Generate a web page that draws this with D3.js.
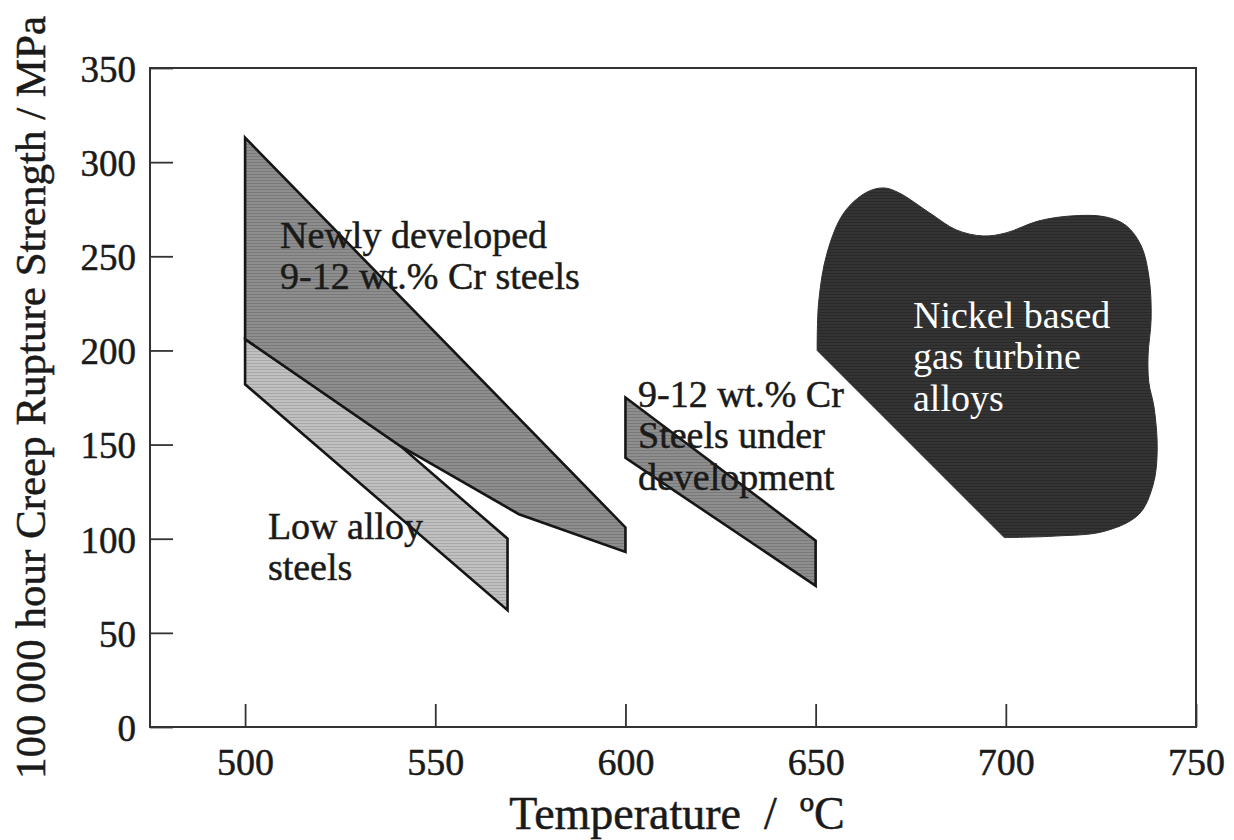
<!DOCTYPE html>
<html>
<head>
<meta charset="utf-8">
<script src="https://cdn.jsdelivr.net/npm/d3@7"></script>
<style>
  html, body { margin: 0; padding: 0; background: #fff; }
  svg { display: block; }
  text { font-family: "Liberation Serif", "Times New Roman", serif; fill: #1a1a1a; }
  .ink { stroke: #1a1a1a; stroke-width: 0.5px; }
</style>
</head>
<body>
<svg id="chart" width="1234" height="840"></svg>
<script>
// Temperature (°C) / strength (MPa) outlines of each material band
const lowAlloySteels = [[500, 206], [541, 149], [569, 100], [569, 62], [500, 182]];
const newlyDevelopedCr = [[500, 313], [600, 106], [600, 93], [572, 113], [541, 149], [500, 206]];
const crSteelsUnderDevelopment = [[600, 175], [650, 99], [650, 75], [600, 143]];
// Nickel alloys: straight lower-left edge, then a smooth outline around the rest
const nickelEdge = [[650.4, 200], [699.6, 100.6]];
const nickelOutline = [
  [699.6, 100.6], [713, 101.4], [726, 104], [735, 113], [738.7, 128.5], [739.8, 146.6],
  [739, 169.4], [737.6, 183], [737.4, 197.6], [738.2, 216.7], [737.7, 238], [735.6, 255.5],
  [731.5, 266.5], [726, 271], [717, 271.4], [708.5, 268.7], [700, 262.4], [694, 260.8],
  [687, 264], [680, 273], [672, 283.6], [668, 286.3], [663.4, 284], [657.4, 273],
  [653, 251.7], [650.8, 225.7], [650.4, 200]
];

const xTicks = [500, 550, 600, 650, 700, 750];
const yTicks = [0, 50, 100, 150, 200, 250, 300, 350];

const regionLabels = [
  { lines: ["Newly developed", "9-12 wt.% Cr steels"], t: 509.2, s: 254.5, color: "#1a1a1a", ink: true },
  { lines: ["Low alloy", "steels"], t: 506, s: 100, color: "#1a1a1a", ink: true },
  { lines: ["9-12 wt.% Cr", "Steels under", "development"], t: 603.3, s: 170, color: "#1a1a1a", ink: true },
  { lines: ["Nickel based", "gas turbine", "alloys"], t: 675.6, s: 212, color: "#fff", ink: false }
];

const svg = d3.select("#chart");
const margin = { left: 150, right: 38, top: 68, bottom: 113 };
const W = 1234, H = 840;

const x = d3.scaleLinear().domain([475, 750]).range([margin.left, W - margin.right]);
const y = d3.scaleLinear().domain([0, 350]).range([H - margin.bottom, margin.top]);

// Scan-line textures for the filled regions
const defs = svg.append("defs");
function stripes(id, base, line) {
  const p = defs.append("pattern").attr("id", id)
    .attr("patternUnits", "userSpaceOnUse").attr("width", 6).attr("height", 3);
  p.append("rect").attr("width", 6).attr("height", 3).attr("fill", base);
  p.append("rect").attr("width", 6).attr("height", 1).attr("fill", line);
}
stripes("lightFill", "#c0c0c0", "#a8a8a8");
stripes("midFill", "#8e8e8e", "#797979");
stripes("darkFill", "#343434", "#292929");

const poly = d3.line().x(d => x(d[0])).y(d => y(d[1]));

function drawPolygon(pts, fill) {
  svg.append("path")
    .attr("d", poly(pts) + "Z")
    .attr("fill", fill)
    .attr("stroke", "#161616")
    .attr("stroke-width", 2.6)
    .attr("stroke-linejoin", "miter");
}

drawPolygon(lowAlloySteels, "url(#lightFill)");
drawPolygon(newlyDevelopedCr, "url(#midFill)");
drawPolygon(crSteelsUnderDevelopment, "url(#midFill)");

// Nickel region: straight edge joined to a Catmull-Rom curve
const smooth = d3.line().x(d => x(d[0])).y(d => y(d[1])).curve(d3.curveCatmullRom.alpha(0.5));
const nickelPath = poly(nickelEdge) + "L" + smooth(nickelOutline).slice(1) + "Z";
svg.append("path")
  .attr("d", nickelPath)
  .attr("fill", "url(#darkFill)")
  .attr("stroke", "#303030")
  .attr("stroke-width", 1);

// Region labels
regionLabels.forEach(lab => {
  const t = svg.append("text")
    .attr("x", x(lab.t)).attr("y", y(lab.s))
    .attr("font-size", 38)
    .classed("ink", lab.ink)
    .style("fill", lab.color);
  lab.lines.forEach((ln, i) => {
    t.append("tspan").attr("x", x(lab.t)).attr("dy", i === 0 ? 0 : 41.5).text(ln);
  });
});

// Frame
svg.append("rect")
  .attr("x", x(475)).attr("y", y(350))
  .attr("width", x(750) - x(475)).attr("height", y(0) - y(350))
  .attr("fill", "none").attr("stroke", "#333").attr("stroke-width", 2);

// Axes with inward ticks
const xAxis = svg.append("g")
  .attr("transform", `translate(0,${y(0)})`)
  .call(d3.axisBottom(x).tickValues(xTicks).tickFormat(d3.format("d")).tickSizeInner(-23).tickSizeOuter(0));
xAxis.select(".domain").remove();
xAxis.selectAll(".tick line").attr("stroke", "#333").attr("stroke-width", 1.8);
xAxis.selectAll(".tick text")
  .attr("y", 48).attr("dy", 0)
  .attr("font-size", 38)
  .attr("font-family", "Liberation Serif, Times New Roman, serif")
  .attr("class", "ink")
  .style("fill", "#1a1a1a");

const yAxis = svg.append("g")
  .attr("transform", `translate(${x(475)},0)`)
  .call(d3.axisLeft(y).tickValues(yTicks).tickFormat(d3.format("d")).tickSizeInner(-23).tickSizeOuter(0));
yAxis.select(".domain").remove();
yAxis.selectAll(".tick line").attr("stroke", "#333").attr("stroke-width", 1.8);
yAxis.selectAll(".tick text")
  .attr("x", -14).attr("dy", "0.36em")
  .attr("font-size", 37)
  .attr("font-family", "Liberation Serif, Times New Roman, serif")
  .attr("class", "ink")
  .style("fill", "#1a1a1a");

// Axis titles
svg.append("text")
  .attr("class", "ink")
  .attr("x", (x(475) + x(750)) / 2 + 4).attr("y", 829)
  .attr("text-anchor", "middle")
  .attr("font-size", 46)
  .style("white-space", "pre")
  .text("Temperature  /  ºC");

svg.append("text")
  .attr("class", "ink")
  .attr("transform", `translate(45,${(y(0) + y(350)) / 2}) rotate(-90)`)
  .attr("text-anchor", "middle")
  .attr("font-size", 43)
  .text("100 000 hour Creep Rupture Strength / MPa");
</script>
</body>
</html>
